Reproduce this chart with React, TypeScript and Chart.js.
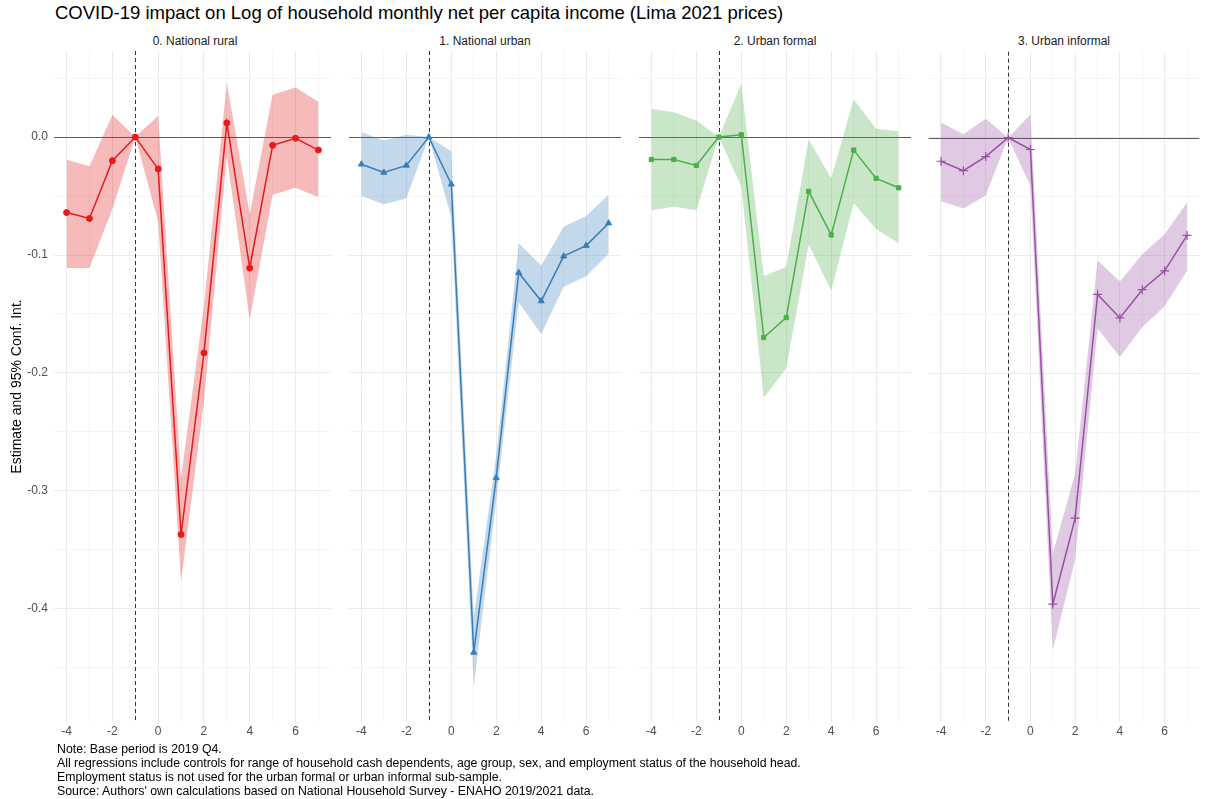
import React, { useEffect, useRef } from "react";
import { Chart, registerables } from "chart.js";

Chart.register(...registerables);

const FONT = "'Liberation Sans', Arial, sans-serif";

const chartTitle = "COVID-19 impact on Log of household monthly net per capita income (Lima 2021 prices)";
const yAxisTitle = "Estimate and 95% Conf. Int.";
const notes = [
  "Note: Base period is 2019 Q4.",
  "All regressions include controls for range of household cash dependents, age group, sex, and employment status of the household head.",
  "Employment status is not used for the urban formal or urban informal sub-sample.",
  "Source: Authors' own calculations based on National Household Survey - ENAHO 2019/2021 data.",
];

const periods = [-4, -3, -2, -1, 0, 1, 2, 3, 4, 5, 6, 7];
const basePeriod = -1;
const xTickValues = [-4, -3, -2, -1, 0, 1, 2, 3, 4, 5, 6, 7];
const yTickValues = [0.05, 0, -0.05, -0.1, -0.15, -0.2, -0.25, -0.3, -0.35, -0.4, -0.45];

const panelTitles = ["0. National rural", "1. National urban", "2. Urban formal", "3. Urban informal"];
const panelColors = ["#E41A1C", "#377EB8", "#4DAF4A", "#984EA3"];
const panelPointStyles = ["circle", "triangle", "rect", "cross"];

const ruralEst = [-0.064, -0.069, -0.020, 0, -0.027, -0.337, -0.183, 0.012, -0.111, -0.007, -0.001, -0.011];
const ruralLo = [-0.111, -0.111, -0.061, 0, -0.072, -0.377, -0.224, -0.016, -0.155, -0.049, -0.043, -0.051];
const ruralHi = [-0.019, -0.025, 0.019, 0, 0.018, -0.289, -0.143, 0.046, -0.065, 0.036, 0.042, 0.030];

const urbanEst = [-0.023, -0.030, -0.024, 0, -0.040, -0.437, -0.289, -0.115, -0.139, -0.101, -0.092, -0.073];
const urbanLo = [-0.050, -0.057, -0.052, 0, -0.068, -0.466, -0.308, -0.140, -0.167, -0.127, -0.118, -0.099];
const urbanHi = [0.004, -0.003, 0.002, 0, -0.012, -0.407, -0.270, -0.090, -0.109, -0.076, -0.067, -0.049];

const formalEst = [-0.019, -0.019, -0.024, 0, 0.002, -0.170, -0.153, -0.046, -0.083, -0.011, -0.035, -0.043];
const formalLo = [-0.062, -0.059, -0.062, 0, -0.042, -0.221, -0.196, -0.091, -0.130, -0.056, -0.078, -0.090];
const formalHi = [0.024, 0.021, 0.014, 0, 0.045, -0.118, -0.110, -0.002, -0.035, 0.032, 0.007, 0.005];

const informalEst = [-0.020, -0.028, -0.016, 0, -0.010, -0.396, -0.323, -0.133, -0.153, -0.129, -0.113, -0.083];
const informalLo = [-0.054, -0.060, -0.049, 0, -0.041, -0.435, -0.358, -0.162, -0.186, -0.161, -0.143, -0.113];
const informalHi = [0.013, 0.003, 0.016, 0, 0.020, -0.353, -0.285, -0.104, -0.122, -0.099, -0.082, -0.055];

const panelEst = [ruralEst, urbanEst, formalEst, informalEst];
const panelLo = [ruralLo, urbanLo, formalLo, informalLo];
const panelHi = [ruralHi, urbanHi, formalHi, informalHi];

const X_MIN = -4.55;
const X_MAX = 7.55;
const Y_MIN = -0.496;
const Y_MAX = 0.073;

const CANVAS_TOP = 46;
const CANVAS_H = 702;
const X_AXIS_H = 26;
const PLOT_W = 282;
const Y_AXIS_W = 54;
const panelLefts = [54, 344, 634, 923];

function hexToRgba(hex: string, a: number) {
  const n = parseInt(hex.slice(1), 16);
  return `rgba(${(n >> 16) & 255},${(n >> 8) & 255},${n & 255},${a})`;
}

const isMultiple = (v: number, step: number) => Math.abs(Math.round(v / step) - v / step) < 1e-6;

const refLinesPlugin = {
  id: "refLines",
  beforeDatasetsDraw(chart: any) {
    const { ctx, chartArea, scales } = chart;
    const y0 = scales.y.getPixelForValue(0);
    const xb = scales.x.getPixelForValue(basePeriod);
    ctx.save();
    ctx.lineWidth = 1;
    ctx.strokeStyle = "#5a5a5a";
    ctx.beginPath();
    ctx.moveTo(chartArea.left, Math.round(y0) + 0.5);
    ctx.lineTo(chartArea.right, Math.round(y0) + 0.5);
    ctx.stroke();
    ctx.strokeStyle = "#333333";
    ctx.setLineDash([4, 3]);
    ctx.beginPath();
    ctx.moveTo(Math.round(xb) + 0.5, chartArea.top);
    ctx.lineTo(Math.round(xb) + 0.5, chartArea.bottom);
    ctx.stroke();
    ctx.restore();
  },
};

function Panel({ index }: { index: number }) {
  const ref = useRef<HTMLCanvasElement>(null);
  const first = index === 0;
  const axisW = first ? Y_AXIS_W : 0;
  const width = PLOT_W + axisW;
  const left = panelLefts[index] - axisW;

  useEffect(() => {
    const color = panelColors[index];
    const toPts = (arr: number[]) => periods.map((p, i) => ({ x: p, y: arr[i] }));
    const style = panelPointStyles[index];
    const chart = new Chart(ref.current as HTMLCanvasElement, {
      type: "line",
      data: {
        datasets: [
          {
            data: toPts(panelLo[index]),
            borderWidth: 0,
            pointRadius: 0,
            fill: false,
            borderColor: "rgba(0,0,0,0)",
          },
          {
            data: toPts(panelHi[index]),
            borderWidth: 0,
            pointRadius: 0,
            fill: "-1",
            borderColor: "rgba(0,0,0,0)",
            backgroundColor: hexToRgba(color, 0.3),
          },
          {
            data: toPts(panelEst[index]),
            borderColor: color,
            borderWidth: 1.5,
            backgroundColor: color,
            pointStyle: style as any,
            pointRadius: style === "cross" ? 4.5 : style === "triangle" ? 3.5 : 3,
            pointBorderWidth: style === "cross" ? 1.2 : 1,
            pointBackgroundColor: color,
            pointBorderColor: color,
            fill: false,
          },
        ],
      },
      options: {
        responsive: false,
        animation: false,
        events: [],
        layout: { padding: 0 },
        plugins: {
          legend: { display: false },
          tooltip: { enabled: false },
          title: { display: false },
        },
        scales: {
          x: {
            type: "linear",
            min: X_MIN,
            max: X_MAX,
            afterBuildTicks: (s: any) => {
              s.ticks = xTickValues.map((v) => ({ value: v }));
            },
            afterFit: (s: any) => {
              s.height = X_AXIS_H;
              s.paddingLeft = 0;
              s.paddingRight = 0;
            },
            ticks: {
              autoSkip: false,
              maxRotation: 0,
              padding: 2,
              color: "#4D4D4D",
              font: { family: FONT, size: 12 },
              callback: (v: any) => (isMultiple(Number(v), 2) ? String(v) : ""),
            },
            grid: {
              drawTicks: false,
              lineWidth: (c: any) => (c.tick && isMultiple(c.tick.value, 2) ? 1 : 0.7),
              color: (c: any) => (c.tick && isMultiple(c.tick.value, 2) ? "#EBEBEB" : "#F0F0F0"),
            },
            border: { display: false },
          },
          y: {
            type: "linear",
            min: Y_MIN,
            max: Y_MAX,
            afterBuildTicks: (s: any) => {
              s.ticks = yTickValues.map((v) => ({ value: v }));
            },
            afterFit: (s: any) => {
              s.width = axisW;
              s.paddingTop = 0;
              s.paddingBottom = 0;
            },
            ticks: {
              display: first,
              padding: 6,
              color: "#4D4D4D",
              font: { family: FONT, size: 12 },
              callback: (v: any) => (isMultiple(Number(v), 0.1) ? Number(v).toFixed(1) : ""),
            },
            title: {
              display: first,
              text: yAxisTitle,
              color: "#000000",
              font: { family: FONT, size: 14 },
              padding: { top: 9, bottom: 0 },
            },
            grid: {
              drawTicks: false,
              lineWidth: (c: any) => (c.tick && isMultiple(c.tick.value, 0.1) ? 1 : 0.7),
              color: (c: any) => (c.tick && isMultiple(c.tick.value, 0.1) ? "#EBEBEB" : "#F0F0F0"),
            },
            border: { display: false },
          },
        },
      } as any,
      plugins: [refLinesPlugin],
    });
    return () => chart.destroy();
  }, [index]);

  return (
    <>
      <div
        style={{
          position: "absolute",
          left: panelLefts[index],
          top: 32,
          width: PLOT_W,
          textAlign: "center",
          fontFamily: FONT,
          fontSize: 12,
          color: "#1A1A1A",
          lineHeight: "18px",
        }}
      >
        {panelTitles[index]}
      </div>
      <canvas
        ref={ref}
        width={width}
        height={CANVAS_H}
        style={{ position: "absolute", left, top: CANVAS_TOP, width, height: CANVAS_H }}
      />
    </>
  );
}

export default function App() {
  return (
    <div
      style={{
        position: "absolute",
        left: 0,
        top: 0,
        width: 1212,
        height: 799,
        background: "#FFFFFF",
        overflow: "hidden",
      }}
    >
      <div
        style={{
          position: "absolute",
          left: 55,
          top: 1,
          fontFamily: FONT,
          fontSize: 18.5,
          color: "#000000",
          lineHeight: "24px",
          whiteSpace: "nowrap",
        }}
      >
        {chartTitle}
      </div>
      {panelTitles.map((_, i) => (
        <Panel key={i} index={i} />
      ))}
      <div
        style={{
          position: "absolute",
          left: 57,
          top: 742,
          fontFamily: FONT,
          fontSize: 12.3,
          color: "#000000",
          lineHeight: "14px",
          whiteSpace: "nowrap",
        }}
      >
        {notes.map((n, i) => (
          <div key={i}>{n}</div>
        ))}
      </div>
    </div>
  );
}
